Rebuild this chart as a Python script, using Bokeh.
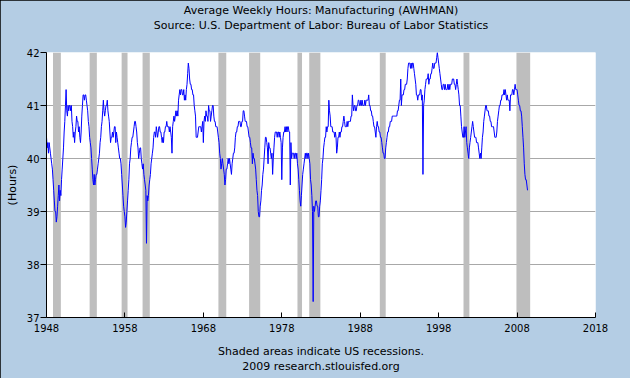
from bokeh.plotting import figure
from bokeh.models import FixedTicker, Title, Range1d, BoxAnnotation, ColumnDataSource, LinearAxis
from bokeh.embed import file_html
from bokeh.resources import INLINE

# ---------------- data (monthly average weekly hours, manufacturing) -------------
FIRST_YEAR = 1948

hours_1948_1957 = [
    40.4, 40.2, 40.3, 40.1, 40.3, 40.2, 40.1, 40.0, 39.9, 39.8, 39.6, 39.4,
    39.2, 39.0, 39.0, 38.8, 38.9, 39.1, 39.3, 39.5, 39.2, 39.4, 39.3, 39.6,
    39.8, 40.0, 40.2, 40.5, 40.7, 41.0, 41.3, 40.9, 40.8, 41.0, 40.9, 41.0,
    41.0, 40.9, 41.0, 40.7, 40.6, 40.4, 40.5, 40.3, 40.5, 40.6, 40.8, 40.7,
    40.7, 40.5, 40.6, 40.4, 40.3, 40.5, 40.8, 41.0, 41.2, 41.2, 41.1, 41.2,
    41.2, 41.1, 41.0, 40.9, 40.7, 40.6, 40.4, 40.3, 40.2, 40.0, 39.8, 39.6,
    39.5, 39.7, 39.5, 39.6, 39.7, 39.7, 39.8, 39.9, 40.0, 40.1, 40.3, 40.4,
    40.6, 40.7, 40.9, 41.1, 40.9, 40.8, 40.9, 41.0, 41.0, 41.1, 40.9, 40.8,
    40.7, 40.5, 40.3, 40.4, 40.4, 40.5, 40.4, 40.5, 40.6, 40.6, 40.3, 40.5,
    40.4, 40.3, 40.2, 40.1, 40.0, 40.0, 39.9, 39.7, 39.5, 39.3, 39.1, 39.0,
]
hours_1958_1967 = [
    38.9, 38.7, 38.8, 39.0, 39.2, 39.4, 39.6, 39.9, 40.0, 40.2, 40.3, 40.4,
    40.4, 40.5, 40.6, 40.7, 40.7, 40.6, 40.5, 40.3, 40.2, 40.0, 40.1, 40.2,
    40.2, 40.0, 39.9, 39.8, 39.9, 39.7, 39.6, 39.5, 39.4, 38.4, 39.3, 39.2,
    39.3, 39.5, 39.6, 39.7, 39.9, 40.0, 40.1, 40.2, 40.4, 40.5, 40.5, 40.4,
    40.6, 40.5, 40.4, 40.5, 40.6, 40.6, 40.5, 40.5, 40.4, 40.3, 40.4, 40.3,
    40.5, 40.5, 40.6, 40.6, 40.7, 40.6, 40.6, 40.6, 40.5, 40.6, 40.5, 40.4,
    40.1, 40.6, 40.7, 40.8, 40.7, 40.8, 40.9, 40.8, 40.9, 40.8, 41.1, 41.2,
    41.3, 41.2, 41.3, 41.3, 41.2, 41.2, 41.3, 41.1, 41.2, 41.1, 41.3, 41.4,
    41.6, 41.8, 41.7, 41.5, 41.4, 41.4, 41.3, 41.3, 41.2, 41.2, 41.0, 40.9,
    40.8, 40.4, 40.4, 40.4, 40.5, 40.6, 40.6, 40.6, 40.6, 40.5, 40.6, 40.7,
]
hours_1968_1977 = [
    40.3, 40.7, 40.8, 40.7, 40.9, 40.8, 40.8, 40.7, 41.0, 40.9, 40.9, 40.7,
    40.8, 40.9, 41.0, 41.0, 40.8, 40.7, 40.7, 40.6, 40.6, 40.6, 40.5, 40.4,
    40.3, 40.1, 40.0, 39.8, 39.9, 40.0, 39.9, 39.8, 39.7, 39.5, 39.6, 39.8,
    39.8, 39.9, 40.0, 39.9, 40.0, 39.9, 39.8, 39.7, 39.9, 40.0, 40.1, 40.1,
    40.2, 40.4, 40.5, 40.5, 40.6, 40.6, 40.7, 40.7, 40.7, 40.6, 40.6, 40.7,
    40.7, 40.9, 40.9, 40.8, 40.7, 40.7, 40.7, 40.6, 40.6, 40.5, 40.4, 40.4,
    40.3, 40.2, 40.2, 39.9, 40.1, 40.0, 40.0, 39.9, 39.8, 39.6, 39.4, 39.3,
    39.0, 38.9, 38.9, 39.1, 39.2, 39.4, 39.5, 39.7, 39.8, 40.0, 40.2, 40.4,
    40.4, 40.3, 40.2, 39.9, 40.3, 40.2, 40.2, 40.1, 40.0, 40.1, 39.7, 40.0,
    40.2, 40.4, 40.5, 40.5, 40.5, 40.4, 40.5, 40.5, 40.4, 40.5, 40.4, 40.3,
]
hours_1978_1987 = [
    39.6, 40.2, 40.4, 40.5, 40.5, 40.6, 40.5, 40.6, 40.5, 40.6, 40.6, 40.5,
    40.5, 39.5, 40.3, 40.0, 40.1, 40.1, 40.1, 40.0, 40.1, 40.1, 40.0, 40.1,
    39.9, 39.8, 39.6, 39.4, 39.2, 39.1, 39.3, 39.5, 39.7, 39.8, 39.9, 40.0,
    40.1, 40.0, 40.1, 40.1, 40.0, 40.1, 40.0, 39.9, 39.6, 39.5, 39.3, 39.0,
    37.3, 39.1, 39.0, 39.1, 39.2, 39.2, 39.1, 39.1, 38.9, 38.9, 39.1, 39.2,
    39.4, 39.6, 39.9, 40.0, 40.2, 40.3, 40.4, 40.4, 40.6, 40.5, 40.6, 40.6,
    41.1, 40.9, 40.8, 40.6, 40.6, 40.6, 40.5, 40.5, 40.5, 40.4, 40.5, 40.4,
    40.1, 40.2, 40.4, 40.4, 40.5, 40.4, 40.5, 40.5, 40.6, 40.6, 40.7, 40.8,
    40.7, 40.6, 40.6, 40.6, 40.7, 40.6, 40.7, 40.7, 40.7, 40.7, 40.8, 40.8,
    41.2, 41.0, 40.9, 41.0, 41.0, 40.9, 40.9, 41.0, 41.0, 41.1, 41.1, 41.0,
]
hours_1988_1997 = [
    41.0, 41.1, 41.0, 41.1, 41.0, 41.0, 41.0, 41.1, 41.0, 41.1, 41.1, 41.1,
    41.1, 41.2, 41.0, 41.0, 40.9, 40.9, 40.8, 40.8, 40.7, 40.6, 40.6, 40.5,
    40.4, 40.6, 40.7, 40.6, 40.6, 40.5, 40.5, 40.4, 40.4, 40.3, 40.2, 40.1,
    40.1, 40.0, 40.0, 40.2, 40.3, 40.4, 40.5, 40.5, 40.6, 40.6, 40.7, 40.7,
    40.7, 40.8, 40.8, 40.8, 40.8, 40.8, 40.8, 40.8, 40.8, 40.9, 40.9, 41.0,
    41.1, 41.1, 41.5, 41.0, 41.2, 41.2, 41.2, 41.3, 41.3, 41.4, 41.4, 41.4,
    41.5, 41.7, 41.8, 41.8, 41.8, 41.7, 41.8, 41.7, 41.8, 41.8, 41.7, 41.6,
    41.5, 41.4, 41.2, 41.2, 41.1, 41.2, 41.2, 41.2, 41.3, 41.3, 41.1, 41.2,
    39.7, 41.0, 41.1, 41.3, 41.4, 41.5, 41.5, 41.5, 41.6, 41.4, 41.5, 41.5,
    41.6, 41.6, 41.7, 41.8, 41.7, 41.7, 41.8, 41.8, 41.8, 41.9, 42.0, 41.9,
]
hours_1998_2009 = [
    41.8, 41.7, 41.6, 41.5, 41.4, 41.3, 41.3, 41.4, 41.4, 41.3, 41.4, 41.3,
    41.3, 41.3, 41.4, 41.3, 41.4, 41.3, 41.4, 41.4, 41.4, 41.5, 41.5, 41.5,
    41.4, 41.4, 41.3, 41.4, 41.5, 41.4, 41.3, 41.2, 41.0, 41.0, 40.8, 40.6,
    40.5, 40.4, 40.4, 40.6, 40.4, 40.5, 40.6, 40.3, 40.2, 40.1, 40.0, 40.2,
    40.3, 40.4, 40.5, 40.6, 40.7, 40.6, 40.5, 40.4, 40.4, 40.4, 40.3, 40.3,
    40.3, 40.2, 40.1, 40.0, 40.1, 40.0, 40.2, 40.4, 40.5, 40.7, 40.8, 40.9,
    41.0, 41.0, 40.9, 40.9, 40.9, 40.8, 40.8, 40.7, 40.7, 40.6, 40.6, 40.6,
    40.6, 40.5, 40.4, 40.4, 40.4, 40.5, 40.7, 40.8, 40.9, 41.0, 41.0, 41.1,
    41.1, 41.2, 41.2, 41.2, 41.3, 41.2, 41.3, 41.2, 41.1, 41.2, 41.1, 41.1,
    41.1, 40.9, 41.2, 41.2, 41.2, 41.3, 41.3, 41.2, 41.3, 41.4, 41.3, 41.3,
    41.3, 41.2, 41.1, 41.0, 41.0, 40.9, 40.9, 40.8, 40.6, 40.4, 40.2, 39.9,
    39.7, 39.6, 39.6, 39.5, 39.4,
]

# NBER recessions (peak -> trough, decimal years)
rec_start = [1948.83, 1953.50, 1957.58, 1960.25, 1969.92, 1973.83,
             1980.00, 1981.50, 1990.50, 2001.17, 2007.92]
rec_end = [1949.83, 1954.42, 1958.33, 1961.17, 1970.92, 1975.25,
           1980.58, 1982.92, 1991.25, 2001.92, 2009.67]

x_ticks = [1948, 1958, 1968, 1978, 1988, 1998, 2008, 2018]
y_ticks = [37, 38, 39, 40, 41, 42]
grid_ticks = [38, 39, 40, 41]

title_text = "Average Weekly Hours: Manufacturing (AWHMAN)"
source_text = "Source: U.S. Department of Labor: Bureau of Labor Statistics"
note_text = "Shaded areas indicate US recessions."
credit_text = "2009 research.stlouisfed.org"
y_label = "(Hours)"

# ---------------- build ---------------------------------------------------------
hours = (hours_1948_1957 + hours_1958_1967 + hours_1968_1977 +
         hours_1978_1987 + hours_1988_1997 + hours_1998_2009)
dates = [FIRST_YEAR + i / 12.0 for i in range(len(hours))]
src = ColumnDataSource(dict(date=dates, hours=hours))

BG = "#b4cde4"
FONT = "DejaVu Sans"

p = figure(width=630, height=378, output_backend="svg", toolbar_location=None,
           title=None,
           x_range=Range1d(x_ticks[0], x_ticks[-1]),
           y_range=Range1d(y_ticks[0], y_ticks[-1]),
           min_border_left=46, min_border_right=35,
           min_border_top=52, min_border_bottom=61,
           background_fill_color="white", border_fill_color=BG)
p.outline_line_color = None
p.styles = {"outline": "1px solid black", "outline-offset": "-1px"}

# recession shading (under the data line, above the grid)
for s, e in zip(rec_start, rec_end):
    p.add_layout(BoxAnnotation(left=s, right=e, fill_color="#bebebe",
                               fill_alpha=1.0, line_color=None, level="underlay"))

p.line("date", "hours", source=src, line_color="#0000ff", line_width=1)

# axes
p.xaxis.ticker = FixedTicker(ticks=x_ticks)
p.yaxis.ticker = FixedTicker(ticks=y_ticks)
for ax in (p.xaxis[0], p.yaxis[0]):
    ax.axis_line_color = "black"
    ax.major_tick_line_color = "black"
    ax.minor_tick_line_color = None
    ax.major_label_text_font = FONT
    ax.major_label_text_font_size = "10px"
    ax.major_label_text_color = "black"
p.xaxis.major_tick_in = 5
p.xaxis.major_tick_out = 0
p.xaxis.major_label_standoff = 6
p.yaxis.major_tick_in = 0
p.yaxis.major_tick_out = 6
p.yaxis.major_label_standoff = 1
p.yaxis.axis_label = y_label
p.yaxis.axis_label_text_font = FONT
p.yaxis.axis_label_text_font_size = "11px"
p.yaxis.axis_label_text_font_style = "normal"
p.yaxis.axis_label_text_color = "black"
p.yaxis.axis_label_standoff = 5

p.xgrid.visible = False
p.ygrid.ticker = FixedTicker(ticks=grid_ticks)
p.ygrid.grid_line_color = "#a8a8a8"
p.ygrid.grid_line_width = 1


def spacer(size):
    # an unlabeled axis with one background-coloured tick, used to reserve space
    return LinearAxis(ticker=FixedTicker(ticks=[x_ticks[0]]), axis_line_color=None,
                      major_tick_in=0, major_tick_out=size,
                      minor_tick_in=0, minor_tick_out=0,
                      major_tick_line_color=BG, minor_tick_line_color=None,
                      major_label_text_color=None, major_label_standoff=0)


def title(txt):
    return Title(text=txt, align="center", standoff=0, vertical_align="middle",
                 text_font=FONT, text_font_size="11px",
                 text_font_style="normal", text_color="black")


# above: nearest the frame first
p.add_layout(spacer(20), "above")
p.add_layout(title(source_text), "above")
p.add_layout(title(title_text), "above")
# below: nearest the frame first (after the x axis)
p.add_layout(spacer(9), "below")
p.add_layout(title(note_text), "below")
p.add_layout(title(credit_text), "below")

open("out.html", "w").write(file_html(p, INLINE))
